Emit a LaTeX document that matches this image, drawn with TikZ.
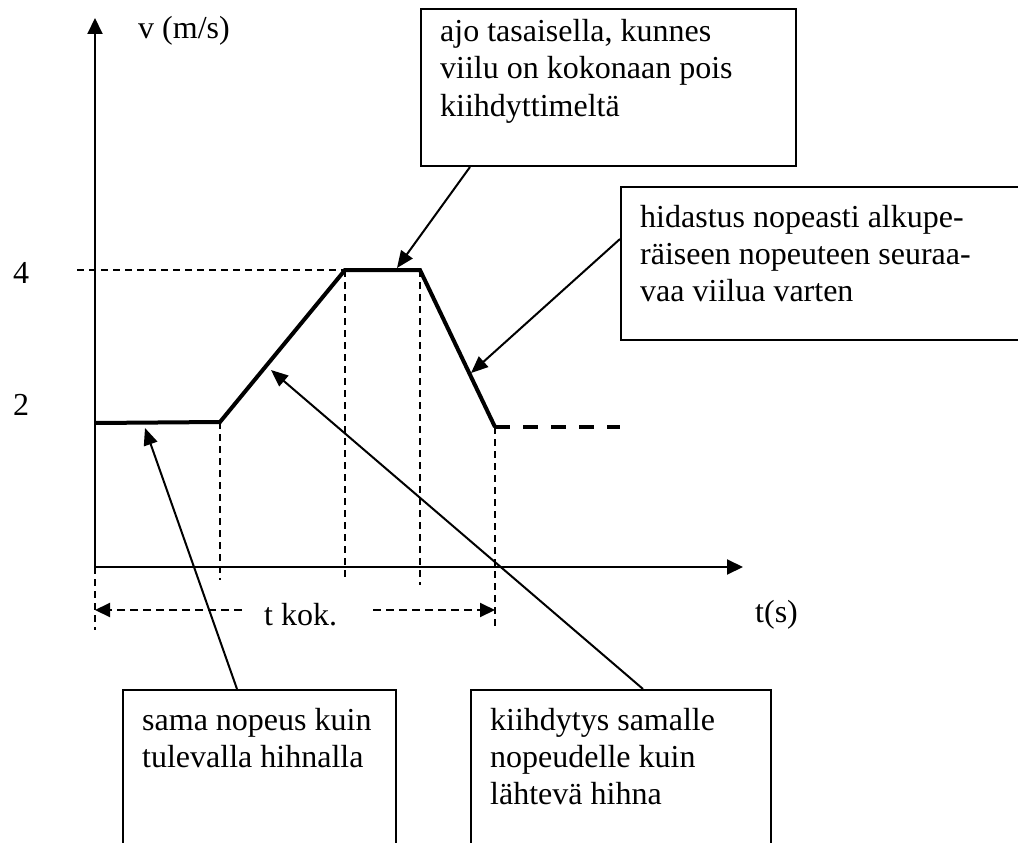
\documentclass[tikz,border=0pt]{standalone}
\usepackage{fontspec}
\setmainfont{Liberation Serif}
\usetikzlibrary{arrows.meta,calc}

\begin{document}
\begin{tikzpicture}[x=1pt,y=-1pt,
  axis/.style={line width=2pt},
  axistip/.style={-{Triangle[length=16pt,width=15pt]}},
  guide/.style={line width=1.6pt,dash pattern=on 7pt off 5pt},
  span/.style={line width=2pt,dash pattern=on 8pt off 5pt,
    -{Triangle[length=15pt,width=14pt]}},
  curve/.style={line width=4pt,line join=miter},
  curvecont/.style={line width=3.5pt,dash pattern=on 15pt off 13pt},
  callout/.style={draw,line width=2pt,inner sep=0pt,anchor=north west},
  lbl/.style={font=\fontsize{32}{37}\selectfont,inner sep=0pt,
    anchor=base west,align=left},
  pointer/.style={line width=2pt,-{Triangle[length=17pt,width=14pt]}}]

% canvas
\clip (0,0) rectangle (1018,843);
\fill[white] (0,0) rectangle (1018,843);

% axes
\coordinate (O) at (95,567);
\coordinate (ytop) at (95,18);
\coordinate (xend) at (743,567);
\draw[axis,axistip] (O) -- (ytop);
\draw[axis,axistip] (O) -- (xend);

\node[lbl] (vlabel) at (138,39) {v (m/s)};
\node[lbl] (tlabel) at (755,622) {t(s)};
\node[lbl] (four) at (13,283) {4};
\node[lbl] (two) at (13,415) {2};

% velocity profile
\coordinate (a) at (95,423);
\coordinate (b) at (220,422);
\coordinate (c) at (345,270);
\coordinate (d) at (420,270);
\coordinate (e) at (495,427);
\coordinate (f) at (620,427);

% helper lines
\coordinate (h4) at (77,270);
\coordinate (gb) at (220,580);
\coordinate (gc) at (345,580);
\coordinate (gd) at (420,585);
\coordinate (ge) at (495,630);
\coordinate (gO) at (95,630);
\draw[guide] (h4) -- (c);
\draw[guide] (b) -- (gb);
\draw[guide] (c) -- (gc);
\draw[guide] (d) -- (gd);
\draw[guide] (e) -- (ge);
\draw[guide] (O) -- (gO);

\draw[curve] (a) -- (b) -- (c) -- (d) -- (e);
\draw[curvecont] (e) -- (f);

% total time
\coordinate (sl) at (242,610);
\coordinate (sl0) at (95,610);
\coordinate (sr) at (373,610);
\coordinate (sr0) at (495,610);
\draw[span] (sl) -- (sl0);
\draw[span] (sr) -- (sr0);
\node[lbl] (tkok) at (264,625) {t kok.};

% callout boxes
\node[callout,minimum width=375pt,minimum height=157pt] (topbox) at (420,8) {};
\node[callout,minimum width=420pt,minimum height=153pt] (rightbox) at (620,186) {};
\node[callout,minimum width=273pt,minimum height=200pt] (leftbox) at (122,689) {};
\node[callout,minimum width=300pt,minimum height=200pt] (midbox) at (470,689) {};

% box texts (anchored at the baseline of their last line)
\node[lbl] (toptext) at (440,116)
  {ajo tasaisella, kunnes\\viilu on kokonaan pois\\kiihdyttimeltä};
\node[lbl] (righttext) at (640,301)
  {hidastus nopeasti alkupe-\\räiseen nopeuteen seuraa-\\vaa viilua varten};
\node[lbl] (lefttext) at (142,767)
  {sama nopeus kuin\\tulevalla hihnalla};
\node[lbl] (midtext) at (490,804)
  {kiihdytys samalle\\nopeudelle kuin\\lähtevä hihna};

% pointers
\coordinate (tipTop) at (397,268);
\coordinate (tipRight) at (471,373);
\coordinate (tipLeft) at (145,428);
\coordinate (tipMid) at (271,370);
\draw[pointer] ($(topbox.south west)+(50,0)$) -- (tipTop);
\draw[pointer] ($(rightbox.north west)+(0,53)$) -- (tipRight);
\draw[pointer] ($(leftbox.north west)+(115,0)$) -- (tipLeft);
\draw[pointer] ($(midbox.north west)+(173,0)$) -- (tipMid);

\end{tikzpicture}
\end{document}
